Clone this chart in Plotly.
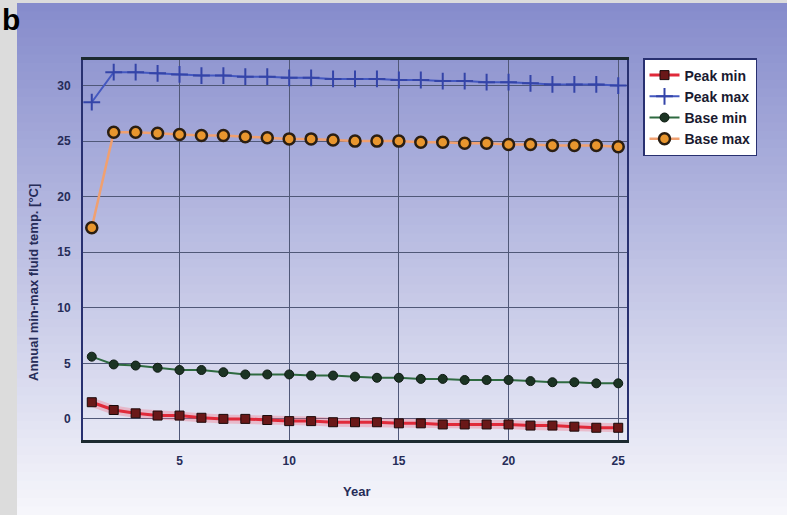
import plotly.graph_objects as go

years = list(range(1, 26))
peak_min = [1.5, 0.8, 0.5, 0.3, 0.3, 0.1, 0.0, 0.0, -0.1, -0.2, -0.2, -0.3, -0.3, -0.3, -0.4,
            -0.4, -0.5, -0.5, -0.5, -0.5, -0.6, -0.6, -0.7, -0.8, -0.8]
peak_max = [28.5, 31.2, 31.2, 31.1, 31.0, 30.9, 30.9, 30.8, 30.8, 30.7, 30.7, 30.6, 30.6, 30.6, 30.5,
            30.5, 30.4, 30.4, 30.3, 30.3, 30.2, 30.1, 30.1, 30.1, 30.0]
base_min = [5.6, 4.9, 4.8, 4.6, 4.4, 4.4, 4.2, 4.0, 4.0, 4.0, 3.9, 3.9, 3.8, 3.7, 3.7,
            3.6, 3.6, 3.5, 3.5, 3.5, 3.4, 3.3, 3.3, 3.2, 3.2]
base_max = [17.2, 25.8, 25.8, 25.7, 25.6, 25.5, 25.5, 25.4, 25.3, 25.2, 25.2, 25.1, 25.0, 25.0, 25.0,
            24.9, 24.9, 24.8, 24.8, 24.7, 24.7, 24.6, 24.6, 24.6, 24.5]
x_ticks = [5, 10, 15, 20, 25]
y_ticks = [0, 5, 10, 15, 20, 25, 30]

FONT = "Liberation Sans, Arial, sans-serif"
TXT = "#262c58"

fig = go.Figure()
# soft halo under the Peak min line
fig.add_trace(go.Scatter(x=years, y=peak_min, mode="lines", showlegend=False, hoverinfo="skip",
                         line=dict(color="rgba(240,110,130,0.35)", width=9)))
fig.add_trace(go.Scatter(x=years, y=peak_min, name="Peak min", mode="lines+markers",
                         line=dict(color="#e02a3a", width=3),
                         marker=dict(symbol="square", size=9, color="#6a1818",
                                     line=dict(color="#1a0a0a", width=1))))
fig.add_trace(go.Scatter(x=years, y=peak_max, name="Peak max", mode="lines+markers",
                         line=dict(color="#4458c0", width=2),
                         marker=dict(symbol="cross-thin", size=12,
                                     line=dict(color="#3444a8", width=2))))
fig.add_trace(go.Scatter(x=years, y=base_min, name="Base min", mode="lines+markers",
                         line=dict(color="#2e6a40", width=2),
                         marker=dict(symbol="circle", size=9, color="#1c3424",
                                     line=dict(color="#0e1a12", width=1))))
fig.add_trace(go.Scatter(x=years, y=base_max, name="Base max", mode="lines+markers",
                         line=dict(color="#f0a070", width=2.5),
                         marker=dict(symbol="circle", size=11, color="#e8962e",
                                     line=dict(color="#2a1e12", width=2.5))))

# pixel -> paper conversions
L, R, T, B = 83, 627, 60, 440
W, H = R - L, B - T
def px_x(p):
    return (p - L) / W
def px_y(p):
    return (B - p) / H

shapes = []
n = 60
top_c = (134, 140, 204)
bot_c = (246, 246, 251)
y_start, y_end = 3, 515
for i in range(n):
    f = i / (n - 1)
    c = tuple(int(round(top_c[k] + (bot_c[k] - top_c[k]) * f)) for k in range(3))
    ya = y_start + (y_end - y_start) * i / n
    yb = y_start + (y_end - y_start) * (i + 1) / n + 1
    shapes.append(dict(type="rect", xref="paper", yref="paper", layer="below",
                       x0=px_x(17), x1=px_x(790), y0=px_y(yb), y1=px_y(ya),
                       fillcolor="rgb(%d,%d,%d)" % c, line=dict(width=0)))

fig.update_layout(
    width=787, height=515,
    margin=dict(l=L, r=787 - R, t=T, b=515 - B),
    paper_bgcolor="#dcdcdc",
    plot_bgcolor="rgba(0,0,0,0)",
    shapes=shapes,
    font=dict(family=FONT, size=12, color=TXT),
    showlegend=True,
    legend=dict(x=px_x(643), y=px_y(58), xanchor="left", yanchor="top",
                bgcolor="#ffffff", bordercolor="#283070", borderwidth=1.5,
                font=dict(family=FONT, size=14, color="#1a1a30", weight="bold"),
                itemwidth=30, tracegroupgap=0),
    xaxis=dict(range=[0.6, 25.4], tickvals=x_ticks, showgrid=True,
               gridcolor="#505878", gridwidth=1, zeroline=False,
               showline=True, linecolor="#1c2a30", linewidth=2.5, mirror=True,
               ticks="", ticklabelstandoff=8,
               tickfont=dict(size=12, color=TXT, weight="bold")),
    yaxis=dict(range=[-1.9, 32.3], tickvals=y_ticks, showgrid=True,
               gridcolor="#505878", gridwidth=1, zeroline=False,
               showline=True, linecolor="#283070", linewidth=2, mirror=True,
               ticks="", ticklabelstandoff=8,
               tickfont=dict(size=12, color=TXT, weight="bold")),
    annotations=[
        dict(text="Annual min-max fluid temp. [°C]", xref="paper", yref="paper",
             x=px_x(33), y=px_y(283), xanchor="center", yanchor="middle", textangle=-90,
             showarrow=False, font=dict(size=13, color=TXT, weight="bold")),
        dict(text="Year", xref="paper", yref="paper",
             x=px_x(356), y=px_y(491), xanchor="center", yanchor="middle",
             showarrow=False, font=dict(size=13, color=TXT, weight="bold")),
        dict(text="<b>b</b>", xref="paper", yref="paper",
             x=px_x(0), y=px_y(20), xanchor="left", yanchor="middle",
             showarrow=False, font=dict(size=30, color="#000000", family=FONT)),
    ],
)

fig.write_html("out.html", config={"displayModeBar": False},
               post_script="document.body.style.margin='0';")
